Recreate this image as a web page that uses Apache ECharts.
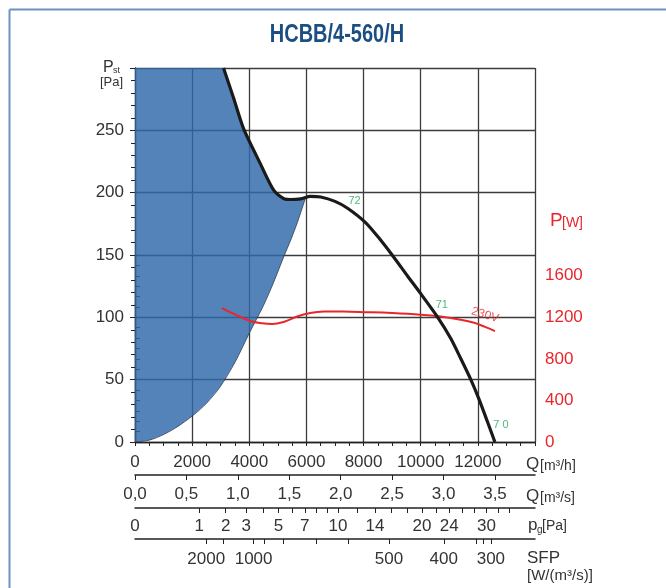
<!DOCTYPE html>
<html>
<head>
<meta charset="utf-8">
<script src="https://cdn.jsdelivr.net/npm/echarts@6/dist/echarts.min.js"></script>
<style>
html,body{margin:0;padding:0;background:#fff;}
#chart{width:666px;height:588px;}
</style>
</head>
<body>
<div id="chart"></div>
<script>
// ---------- data ----------
const titleText = 'HCBB/4-560/H';
// fan curve: static pressure [Pa] vs airflow [m3/h]
const fanQ   = [3098,3450,3800,4386,4854,5205,5439,5800,6140,6500,7000,7440,8070,8560,9000,9544,10000,10596,11053,11400,11754,12046,12340,12596];
const fanPst = [300, 276, 251.4,223.3,202, 195.3,194.5,195, 197, 196.5,193, 187.5,176, 163, 150, 133, 119, 100, 83, 67, 50, 34, 16, 0];
// lower boundary of the shaded (non-recommended) zone
const sysQ   = [0, 500, 1000, 1500, 2046, 2500, 2982, 3500, 4000, 4503, 4850, 5205, 5450, 5673, 5965];
const sysPst = [0, 1.5, 6,    12.5, 21.6, 31,   44.3, 64,   87.3, 109.8,128,  148.5,162,  175.5,195.5];
// power curve [W] vs airflow [m3/h]
const powQ = [3041,3500,4035,4450,4800,5250,5673,6100,6608,7300,8012,9000,10000,10702,11300,11871,12250,12597];
const powW = [1289,1228,1165,1143,1136,1160,1208,1240,1256,1255,1250,1241,1226,1208,1182,1148,1108,1068];
// annotations
const effLabels = [[7684,193,'72'],[10737,110,'71'],[12807,13.6,'7 0']];
const voltLabel = [[12250,1222,'230V']];
// axes
const qMaxH = 14000;
const powLabelVals = [0,400,800,1200,1600];
const powTickVals = [0,100,200,300,400,500,600,700,800,900,1000,1100,1200,1300,1400,1500,1600,1700,1800];
const pgLabels = [0,1,2,3,5,7,10,14,20,24,30];
const pgTicks  = [1,2,3,4,5,6,7,8,9,10,12,14,16,18,20,22,24,26,28,30,32,34];
const pgToQ = 2245.6; // m3/h per sqrt(Pa)
const sfpLabels = [2000,1000,500,400,300];
const sfpLabelQ = [2491,4151,8888,10807,12456];
const sfpMinor  = [1500,900,800,700,600,320,310];
const sfpMinorQ = [3098,4526,5182,6351,7480,11930,12180];

// ---------- chart ----------
const chart = echarts.init(document.getElementById('chart'), null, {renderer:'canvas'});
const FONT = "'Liberation Sans', Arial, sans-serif";
const TXT = '#333';
const GRIDC = '#3c3c3c';
const L = 135, R = 666-535, T = 68, B = 588-442;

const pair = (a,b) => a.map((v,i)=>[v,b[i]]);
const fanData = pair(fanQ, fanPst);
const sysData = pair(sysQ, sysPst);
const powData = pair(powQ, powW);

const baseLabel = {fontFamily: FONT, fontSize: 17, color: TXT};
const plain = v => String(Math.round(v));

const option = {
  animation: false,
  backgroundColor: '#fff',
  grid: [
    {left: L, right: R, top: T, bottom: B},
    {left: L, right: R, top: 255, bottom: B}
  ],
  xAxis: [
    { // Q m3/h
      type:'value', gridIndex:0, min:0, max:qMaxH, interval:2000, position:'bottom',
      axisLine:{show:true, onZero:false, lineStyle:{color:'#222', width:1.3}},
      axisTick:{show:true, length:4, lineStyle:{color:'#222'}},
      minorTick:{show:true, splitNumber:4, length:4, lineStyle:{color:'#222'}},
      splitLine:{show:true, lineStyle:{color:GRIDC, width:1.3}},
      axisLabel:Object.assign({margin:12, showMaxLabel:false, formatter:plain}, baseLabel)
    },
    { // Q m3/s
      type:'value', gridIndex:0, min:0, max:qMaxH/3600, interval:0.5, position:'bottom', offset:33,
      axisLine:{show:true, onZero:false, lineStyle:{color:'#222', width:1.5}},
      axisTick:{show:true, inside:false, length:5, lineStyle:{color:'#222'}},
      splitLine:{show:false},
      axisLabel:Object.assign({margin:11, showMaxLabel:false,
        formatter:v => v.toFixed(1).replace('.', ',')}, baseLabel)
    },
    { // pg Pa
      type:'value', gridIndex:0, min:0, max:qMaxH, position:'bottom', offset:66,
      axisLine:{show:true, onZero:false, lineStyle:{color:'#222', width:1.5}},
      axisTick:{show:true, length:5, lineStyle:{color:'#222'},
        customValues: pgTicks.map(p => pgToQ*Math.sqrt(p))},
      splitLine:{show:false},
      axisLabel:Object.assign({margin:10,
        customValues: pgLabels.map(p => pgToQ*Math.sqrt(p)),
        formatter:v => String(Math.round(Math.pow(v/pgToQ,2)))}, baseLabel)
    },
    { // SFP
      type:'value', gridIndex:0, min:0, max:qMaxH, position:'bottom', offset:97,
      axisLine:{show:true, onZero:false, lineStyle:{color:'#222', width:1.5}},
      axisTick:{show:true, length:5, lineStyle:{color:'#222'},
        customValues: sfpLabelQ.concat(sfpMinorQ)},
      splitLine:{show:false},
      axisLabel:Object.assign({margin:12,
        customValues: sfpLabelQ,
        formatter:v => { let bi=0; sfpLabelQ.forEach((q,i)=>{ if (Math.abs(q-v) < Math.abs(sfpLabelQ[bi]-v)) bi=i; }); return String(sfpLabels[bi]); }}, baseLabel)
    },
    { // hidden x for power grid
      type:'value', gridIndex:1, min:0, max:qMaxH, show:false
    }
  ],
  yAxis: [
    {
      type:'value', gridIndex:0, min:0, max:300, interval:50, position:'left',
      axisLine:{show:true, lineStyle:{color:'#222', width:1.3}},
      axisTick:{show:true, length:5, lineStyle:{color:'#222'}},
      minorTick:{show:true, splitNumber:5, length:4, lineStyle:{color:'#222'}},
      splitLine:{show:true, lineStyle:{color:GRIDC, width:1.3}},
      axisLabel:Object.assign({margin:11, showMaxLabel:false, formatter:plain}, baseLabel)
    },
    {
      type:'value', gridIndex:1, min:0, max:1800, position:'right',
      axisLine:{show:true, lineStyle:{color:'#222', width:1.3}},
      axisTick:{show:true, length:5, lineStyle:{color:'#222'}, customValues: powTickVals},
      splitLine:{show:false},
      axisLabel:Object.assign({}, baseLabel, {margin:10, color:'#e8262c', customValues: powLabelVals, formatter:plain})
    }
  ],
  series: [
    {
      type:'custom', xAxisIndex:0, yAxisIndex:0, z:2, silent:true,
      data:[0],
      renderItem:(params, api) => {
        const pts = [api.coord([0,300])];
        fanData.forEach(d => { if (d[0] <= 5900) pts.push(api.coord(d)); });
        for (let i = sysData.length-1; i >= 0; i--) pts.push(api.coord(sysData[i]));
        return {type:'polygon', shape:{points:pts}, style:{fill:'rgba(46,104,170,0.82)', stroke:null}};
      }
    },
    {
      type:'line', xAxisIndex:0, yAxisIndex:0, data:sysData, smooth:0.3, symbol:'none', z:3,
      lineStyle:{color:'#2a3a4a', width:0.8}
    },
    {
      type:'line', xAxisIndex:0, yAxisIndex:0, data:fanData, smooth:0.25, symbol:'none', z:5,
      lineStyle:{color:'#1a1a1a', width:3.2}
    },
    {
      type:'line', xAxisIndex:4, yAxisIndex:1, data:powData, smooth:0.4, symbol:'none', z:4,
      lineStyle:{color:'#e8262c', width:2}
    },
    {
      type:'scatter', xAxisIndex:0, yAxisIndex:0, symbolSize:0, z:6,
      data:effLabels,
      label:{show:true, position:'inside', formatter:p => p.value[2],
        fontFamily:FONT, fontSize:11, color:'#1fa85a'}
    },
    {
      type:'scatter', xAxisIndex:4, yAxisIndex:1, symbolSize:0, z:6,
      data:voltLabel,
      label:{show:true, position:'inside', formatter:p => p.value[2], rotate:-17,
        fontFamily:FONT, fontSize:12, color:'#e8262c'}
    }
  ],
  graphic: [
    {type:'line', shape:{x1:9.5, y1:9.5, x2:666, y2:9.5}, style:{stroke:'#6a93bd', lineWidth:2}, silent:true},
    {type:'line', shape:{x1:9.5, y1:9.5, x2:9.5, y2:588}, style:{stroke:'#6a93bd', lineWidth:2}, silent:true},
    {type:'text', x:337, y:35, scaleX:0.8, originX:0, originY:0, style:{text:titleText, fontFamily:FONT, fontWeight:'bold', fontSize:25, fill:'#1b4f82', align:'center', verticalAlign:'middle'}},
    // Pst
    {type:'text', x:103, y:68, style:{text:'P', fontFamily:FONT, fontSize:16, fill:TXT, verticalAlign:'middle'}},
    {type:'text', x:113, y:71, style:{text:'st', fontFamily:FONT, fontSize:9, fill:TXT, verticalAlign:'middle'}},
    {type:'text', x:100, y:82, style:{text:'[Pa]', fontFamily:FONT, fontSize:13, fill:TXT, verticalAlign:'middle'}},
    // P[W]
    {type:'text', x:550, y:221, style:{text:'P', fontFamily:FONT, fontSize:19, fill:'#e8262c', verticalAlign:'middle'}},
    {type:'text', x:562, y:223, style:{text:'[W]', fontFamily:FONT, fontSize:14, fill:'#e8262c', verticalAlign:'middle'}},
    // Q m3/h
    {type:'text', x:526, y:464, style:{text:'Q', fontFamily:FONT, fontSize:17, fill:TXT, verticalAlign:'middle'}},
    {type:'text', x:540, y:466, style:{text:'[m³/h]', fontFamily:FONT, fontSize:14, fill:TXT, verticalAlign:'middle'}},
    // Q m3/s
    {type:'text', x:526, y:496, style:{text:'Q', fontFamily:FONT, fontSize:17, fill:TXT, verticalAlign:'middle'}},
    {type:'text', x:540, y:498, style:{text:'[m³/s]', fontFamily:FONT, fontSize:14, fill:TXT, verticalAlign:'middle'}},
    // pg
    {type:'text', x:528, y:525, style:{text:'p', fontFamily:FONT, fontSize:17, fill:TXT, verticalAlign:'middle'}},
    {type:'text', x:537, y:530, style:{text:'g', fontFamily:FONT, fontSize:10, fill:TXT, verticalAlign:'middle'}},
    {type:'text', x:542, y:526, style:{text:'[Pa]', fontFamily:FONT, fontSize:14, fill:TXT, verticalAlign:'middle'}},
    // SFP
    {type:'text', x:527, y:558, style:{text:'SFP', fontFamily:FONT, fontSize:17, fill:TXT, verticalAlign:'middle'}},
    {type:'text', x:527, y:576, style:{text:'[W/(m³/s)]', fontFamily:FONT, fontSize:15, fill:TXT, verticalAlign:'middle'}}
  ]
};
chart.setOption(option);
</script>
</body>
</html>
